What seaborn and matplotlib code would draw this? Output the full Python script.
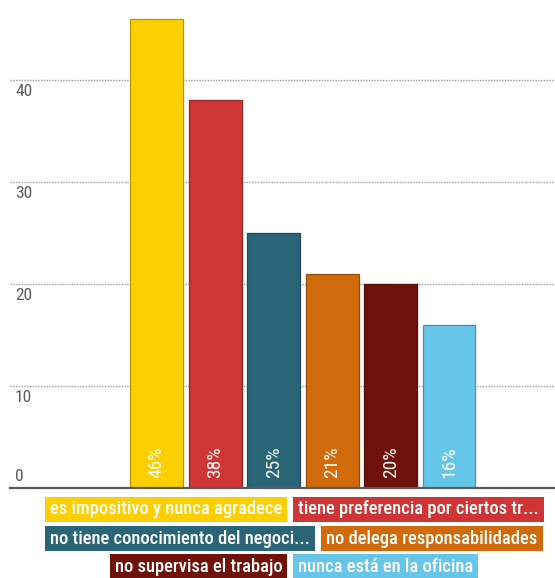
import matplotlib
matplotlib.use("Agg")
import matplotlib.pyplot as plt
import matplotlib.colors as mcolors
from matplotlib import font_manager, transforms
from matplotlib.patches import Rectangle
import seaborn as sns

# ---- data -------------------------------------------------------------
categories = [
    "es impositivo y nunca agradece",
    "tiene preferencia por ciertos tr...",
    "no tiene conocimiento del negoci...",
    "no delega responsabilidades",
    "no supervisa el trabajo",
    "nunca está en la oficina",
]
values = [46, 38, 25, 21, 20, 16]
colors = ["#FCD000", "#D03535", "#2A6577", "#D06A0A", "#701209", "#66C6EA"]
y_ticks = [0, 10, 20, 30, 40]
legend_rows = [[0, 1], [2, 3], [4, 5]]

# ---- font: prefer a condensed sans ------------------------------------
available = {f.name for f in font_manager.fontManager.ttflist}
FONT = "DejaVu Sans"
for cand in ["Roboto Condensed", "Open Sans Condensed", "Liberation Sans Narrow",
             "DejaVu Sans Condensed", "Roboto", "Open Sans"]:
    if cand in available:
        FONT = cand
        break

sns.set_theme(style="white")
plt.rcParams["font.family"] = [FONT, "DejaVu Sans"]

W, H = 555, 578
fig = plt.figure(figsize=(W / 100, H / 100), dpi=100)
fig.patch.set_facecolor("white")

# axes box in pixel terms: left 10, right 555, baseline at y=488 from top
ax = fig.add_axes([10 / W, (H - 488) / H, 545 / W, 488 / H])

sns.barplot(x=categories, y=values, hue=categories, palette=colors,
            width=0.9, saturation=1, legend=False, ax=ax, zorder=3)

# darker outline per bar
for p in ax.patches:
    i = int(round(p.get_x() + p.get_width() / 2))
    rgb = mcolors.to_rgb(colors[i])
    p.set_edgecolor(tuple(c * 0.72 for c in rgb))
    p.set_linewidth(0.9)

ax.set_xlim(-2.51, 6.81)
ax.set_ylim(0, 488 / 10.2)
ax.set_yticks(y_ticks)
ax.set_xticks([])
ax.tick_params(axis="y", left=False, labelleft=False)
ax.set_xlabel("")
ax.set_ylabel("")
ax.grid(axis="y", linestyle=(0, (1, 1)), color="#9a9a9a", linewidth=1.0, zorder=0)
ax.set_axisbelow(True)
for s in ["left", "right", "top"]:
    ax.spines[s].set_visible(False)
ax.spines["bottom"].set_color("#5a5a5a")
ax.spines["bottom"].set_linewidth(1.6)
ax.spines["bottom"].set_zorder(4)

# value-axis labels sitting inside the plot, just under each gridline
blend = transforms.blended_transform_factory(ax.transAxes, ax.transData)
for v in y_ticks:
    if v == 0:
        tr = transforms.offset_copy(blend, fig=fig, x=0, y=4, units="dots")
        va = "bottom"
    else:
        tr = transforms.offset_copy(blend, fig=fig, x=0, y=-4, units="dots")
        va = "top"
    ax.text(5 / 545, v, str(v), transform=tr, ha="left", va=va,
            fontsize=12.5, color="#5a5a5a", zorder=5)

# percentage labels inside the bars
for i, v in enumerate(values):
    ax.text(i, 0.95, f"{v}%", rotation=90, ha="center", va="bottom",
            color="#fbfbf4", fontsize=14, fontweight="normal", zorder=5)

# ---- legend as coloured label boxes ----------------------------------
renderer = fig.canvas.get_renderer()
pad_x, gap, box_h = 5, 6, 25
row_centers = [509.5, 538.5, 566.5]
LEG_WEIGHT = "medium"


def text_width(label, fs):
    t = fig.text(0, 0, label, fontsize=fs, fontweight=LEG_WEIGHT)
    w = t.get_window_extent(renderer=renderer).width
    t.remove()
    return w


base_fs = 12
row_widths = []
for row in legend_rows:
    total = sum(text_width(categories[i], base_fs) + 2 * pad_x for i in row)
    total += gap * (len(row) - 1)
    row_widths.append(total)
fs = base_fs * (498 - 2 * pad_x * 2) / (max(row_widths) - 2 * pad_x * 2)

cx = 294
for row, yc in zip(legend_rows, row_centers):
    widths = [text_width(categories[i], fs) + 2 * pad_x for i in row]
    total = sum(widths) + gap * (len(row) - 1)
    x = cx - total / 2
    for i, w in zip(row, widths):
        fig.patches.append(Rectangle(((x) / W, (H - yc - box_h / 2) / H), w / W, box_h / H,
                                     transform=fig.transFigure, facecolor=colors[i],
                                     edgecolor="none", zorder=1))
        fig.text((x + w / 2) / W, (H - yc) / H, categories[i], ha="center", va="center",
                 color="white", fontsize=fs, fontweight=LEG_WEIGHT, zorder=2)
        x += w + gap

fig.savefig("out.png", dpi=100, facecolor="white")
